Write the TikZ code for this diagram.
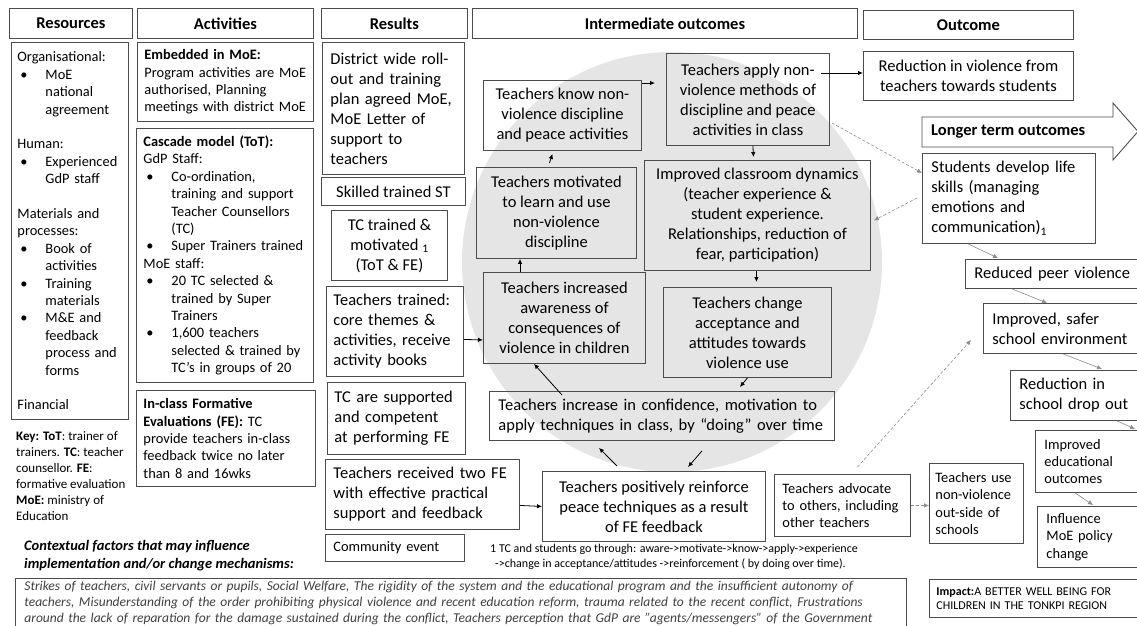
\documentclass[tikz,border=0pt]{standalone}
\usepackage{fontspec}
\setmainfont{Carlito}
\usetikzlibrary{arrows.meta}
\newcommand{\bl}{\hspace*{3pt}\makebox[25pt][l]{\textbullet}}
\newcommand{\ind}{\hspace*{28pt}}
\begin{document}
\begin{tikzpicture}[x=1pt, y=-1pt,
    box/.style={draw=black!70, line width=0.9pt, anchor=north west, inner ysep=2pt},
    hd/.style={box, align=center, font=\bfseries\fontsize{16.5}{20}\selectfont},
    big/.style={font=\fontsize{16.5}{20}\selectfont},
    sml/.style={font=\fontsize{14.4}{17.4}\selectfont},
    arr/.style={-{Latex[length=5pt,width=4.5pt]}, line width=0.8pt},
    garr/.style={arr, draw=black!45, line width=0.6pt},
    darr/.style={garr, dash pattern=on 3pt off 2pt}]
    \useasboundingbox (0,0) rectangle (1137,626);
    \clip (0,0) rectangle (1137,626);
    \fill[white] (0,0) rectangle (1137,626);
    \fill[gray!20] (672,262) circle (210);

    \node[hd, minimum width=123pt, minimum height=30pt] (resH) at (9,8) {Resources};
    \node[hd, minimum width=176pt, minimum height=30pt] (actH) at (137,8) {Activities};
    \node[hd, minimum width=146pt, minimum height=30pt] (reslH) at (321,8) {Results};
    \node[hd, minimum width=385pt, minimum height=30pt] (intH) at (472,8) {Intermediate outcomes};
    \node[hd, minimum width=210pt, minimum height=29pt] (outH) at (863,10) {Outcome};

    \node[box, sml, align=left, text width=105pt, inner xsep=6pt, minimum height=377pt] (res) at (11,42) {Organisational:\\ \bl MoE\\ \ind national\\ \ind agreement\\[17.4pt] Human:\\ \bl Experienced\\ \ind GdP staff\\[17.4pt] Materials and\\ processes:\\ \bl Book of\\ \ind activities\\ \bl Training\\ \ind materials\\ \bl M\&E and\\ \ind feedback\\ \ind process and\\ \ind forms\\[17.4pt] Financial};
    \node[box, sml, align=left, text width=162pt, inner xsep=7pt, minimum height=79pt] (emb) at (137,42) {\textbf{Embedded in MoE:}\\ Program activities are MoE\\ authorised, Planning\\ meetings with district MoE};
    \node[box, sml, align=left, text width=163pt, inner xsep=7pt, minimum height=254pt] (casc) at (136,128) {\textbf{Cascade model (ToT):}\\ GdP Staff:\\ \bl Co-ordination,\\ \ind training and support\\ \ind Teacher Counsellors\\ \ind (TC)\\ \bl Super Trainers trained\\ MoE staff:\\ \bl 20 TC selected \&\\ \ind trained by Super\\ \ind Trainers\\ \bl 1,600 teachers\\ \ind selected \& trained by\\ \ind TC’s in groups of 20};
    \node[box, sml, align=left, text width=165pt, inner xsep=7pt, minimum height=96pt] (fe) at (136,390) {\textbf{In-class Formative}\\ \textbf{Evaluations (FE):} TC\\ provide teachers in-class\\ feedback twice no later\\ than 8 and 16wks};
    \node[anchor=north west, align=left, inner sep=0pt, font=\fontsize{13}{16}\selectfont] (key) at (16,431) {\textbf{Key: ToT}: trainer of\\ trainers. \textbf{TC}: teacher\\ counsellor. \textbf{FE}:\\ formative evaluation\\ \textbf{MoE:} ministry of\\ Education};
    \node[anchor=north west, align=left, inner sep=0pt, font=\bfseries\itshape\fontsize{14.5}{18}\selectfont] (ctxH) at (24,540) {Contextual factors that may influence\\ implementation and/or change mechanisms:};
    \node[box, align=left, text width=873pt, inner xsep=9pt, inner ysep=3pt, text=black!75, font=\itshape\fontsize{13.5}{16}\selectfont] (ctx) at (15,578) {Strikes of teachers, civil servants or pupils, Social Welfare, The rigidity of the system and the educational program and the insufficient autonomy of\\ teachers, Misunderstanding of the order prohibiting physical violence and recent education reform, trauma related to the recent conflict, Frustrations\\ around the lack of reparation for the damage sustained during the conflict, Teachers perception that GdP are "agents/messengers" of the Government};

    \node[box, big, align=left, text width=126pt, inner xsep=8pt, minimum height=132pt] (district) at (322,42) {District wide roll-\\out and training\\plan agreed MoE,\\MoE Letter of\\support to\\teachers};
    \node[box, big, align=center, minimum width=144pt, minimum height=28pt] (skilled) at (321,177) {Skilled trained ST};
    \node[box, big, align=center, minimum width=116pt, minimum height=70pt] (tctrained) at (331,210) {TC trained \&\\motivated \textsubscript{1}\\(ToT \& FE)};
    \node[box, big, align=left, text width=123pt, inner xsep=7pt, minimum height=90pt] (ttrained) at (326,286) {Teachers trained:\\core themes \&\\activities, receive\\activity books};
    \node[box, big, align=left, text width=124pt, inner xsep=7pt, minimum height=72pt] (tcsup) at (327,382) {TC are supported\\and competent\\at performing FE};
    \node[box, big, align=left, text width=178pt, inner xsep=8pt, minimum height=70pt] (received) at (325,459) {Teachers received two FE\\with effective practical\\support and feedback};
    \node[box, sml, align=left, text width=123pt, inner xsep=8pt, minimum height=27pt] (community) at (325,534) {Community event};

    \node[box, big, align=center, minimum width=158pt, minimum height=70pt] (know) at (483,80) {Teachers know non-\\violence discipline\\and peace activities};
    \node[box, big, align=center, minimum width=163pt, minimum height=92pt] (apply) at (666,53) {Teachers apply non-\\violence methods of\\discipline and peace\\activities in class};
    \node[box, big, align=center, minimum width=160pt, minimum height=91pt] (motivated) at (476,167) {Teachers motivated\\to learn and use\\non-violence\\discipline};
    \node[box, big, align=center, minimum width=226pt, minimum height=110pt] (classroom) at (644,160) {Improved classroom dynamics\\(teacher experience \&\\student experience.\\Relationships, reduction of\\fear, participation)};
    \node[box, big, align=center, minimum width=162pt, minimum height=91pt] (awareness) at (483,272) {Teachers increased\\awareness of\\consequences of\\violence in children};
    \node[box, big, align=center, minimum width=168pt, minimum height=90pt] (change) at (663,287) {Teachers change\\acceptance and\\attitudes towards\\violence use};
    \node[box, big, align=left, text width=327pt, inner xsep=9pt, minimum height=49pt] (confidence) at (489,391) {Teachers increase in confidence, motivation to\\apply techniques in class, by “doing” over time};
    \node[box, big, align=center, minimum width=223pt, minimum height=70pt, fill=white] (reinforce) at (542,471) {Teachers positively reinforce\\peace techniques as a result\\of FE feedback};
    \node[anchor=north west, align=left, inner sep=0pt, font=\fontsize{12}{14.5}\selectfont] (foot) at (490,544) {1 TC and students go through: aware->motivate->know->apply->experience\\ \hspace*{5pt}->change in acceptance/attitudes ->reinforcement ( by doing over time).};
    \node[box, sml, align=left, text width=120pt, inner xsep=8pt, minimum height=62pt] (advocate) at (774,474) {Teachers advocate\\to others, including\\other teachers};
    \node[box, sml, align=left, text width=82pt, inner xsep=6pt, minimum height=80pt] (useout) at (929,463) {Teachers use\\non-violence\\out-side of\\schools};
    \node[box, align=left, text width=201pt, inner xsep=7pt, minimum height=38pt, font=\fontsize{12}{14}\selectfont] (impact) at (929,579) {\textbf{Impact:}A BETTER WELL BEING FOR\\CHILDREN IN THE TONKPI REGION};

    \node[box, big, align=center, minimum width=210pt, minimum height=49pt] (reduction) at (863,51) {Reduction in violence from\\teachers towards students};
    \draw[draw=black!70, line width=0.9pt, fill=white] (922,117) -- (1113,117) -- (1113,103) -- (1138,131.5) -- (1113,160) -- (1113,147) -- (922,147) -- cycle;
    \node[anchor=west, inner sep=0pt, font=\bfseries\fontsize{16.5}{20}\selectfont] (longer) at (931,132) {Longer term outcomes};
    \node[box, big, align=left, text width=155pt, inner xsep=9pt, minimum height=90pt] (students) at (922,153) {Students develop life\\skills (managing\\emotions and\\communication)\textsubscript{1}};
    \node[box, big, align=left, text width=162pt, inner xsep=9pt, minimum height=29pt] (peer) at (965,259) {Reduced peer violence};
    \node[box, big, align=left, text width=142pt, inner xsep=9pt, minimum height=50pt] (safer) at (983,303) {Improved, safer\\school environment};
    \node[box, big, align=left, text width=122pt, inner xsep=9pt, minimum height=50pt] (dropout) at (1010,370) {Reduction in\\school drop out};
    \node[box, sml, align=left, text width=92pt, inner xsep=9pt, minimum height=62pt] (educ) at (1035,430) {Improved\\educational\\outcomes};
    \node[box, sml, align=left, text width=92pt, inner xsep=9pt, minimum height=61pt] (influence) at (1037,506) {Influence\\MoE policy\\change};

    \draw[arr] ([yshift=-3pt]know.north east) -- ([xshift=-11pt,yshift=-30pt]apply.north west);
    \draw[arr] ([xshift=-9pt,yshift=-20pt]apply.north east) -- ([yshift=-22pt]reduction.north west);
    \draw[arr] ([xshift=-7pt,yshift=4pt]motivated.north) -- ([xshift=-10pt,yshift=-3pt]know.south);
    \draw[arr] ([xshift=37pt]awareness.north west) -- ([xshift=44pt]motivated.south west);
    \draw[arr] ([xshift=5pt]apply.south) -- ([xshift=-4pt,yshift=3pt]classroom.north);
    \draw[arr] ([xshift=-1pt]classroom.south) -- ([xshift=9pt,yshift=5pt]change.north);
    \draw[arr] (change.south) -- ([xshift=78pt,yshift=4pt]confidence.north);
    \draw[arr] ([xshift=73pt,yshift=-4pt]confidence.north west) -- ([xshift=51pt]awareness.south west);
    \draw[arr] ([xshift=75pt,yshift=5pt]reinforce.north west) -- ([xshift=110pt,yshift=-7pt]confidence.south west);
    \draw[arr] ([xshift=213pt,yshift=-10pt]confidence.south west) -- ([xshift=146pt,yshift=4pt]reinforce.north west);
    \draw[arr] ([yshift=-8pt]ttrained.east) -- ([yshift=-22pt]awareness.west);
    \draw[arr] ([yshift=-11pt]received.east) -- (reinforce.west);

    \draw[darr] ([xshift=2pt,yshift=23pt]apply.south east) -- ([yshift=-20pt]students.north west);
    \draw[darr] ([xshift=-5pt,yshift=-45pt]students.north west) -- ([xshift=3pt,yshift=-5pt]classroom.east);
    \draw[darr] ([xshift=15pt,yshift=7pt]advocate.north) -- ([xshift=-12pt,yshift=-37pt]safer.north west);
    \draw[darr] (advocate.east) -- (advocate.east -| useout.west);

    \draw[garr] ([xshift=46pt]students.south west) -- ([xshift=33pt,yshift=1pt]peer.north west);
    \draw[garr] ([xshift=47pt]peer.south west) -- ([xshift=64pt]safer.north west);
    \draw[garr] ([xshift=80pt]safer.south west) -- ([xshift=92pt,yshift=1pt]dropout.north west);
    \draw[garr] ([xshift=107pt]dropout.south west) -- ([xshift=100pt,yshift=1pt]educ.north west);
    \draw[garr] ([xshift=40pt]educ.south west) -- ([xshift=56pt,yshift=1pt]influence.north west);
\end{tikzpicture}
\end{document}
